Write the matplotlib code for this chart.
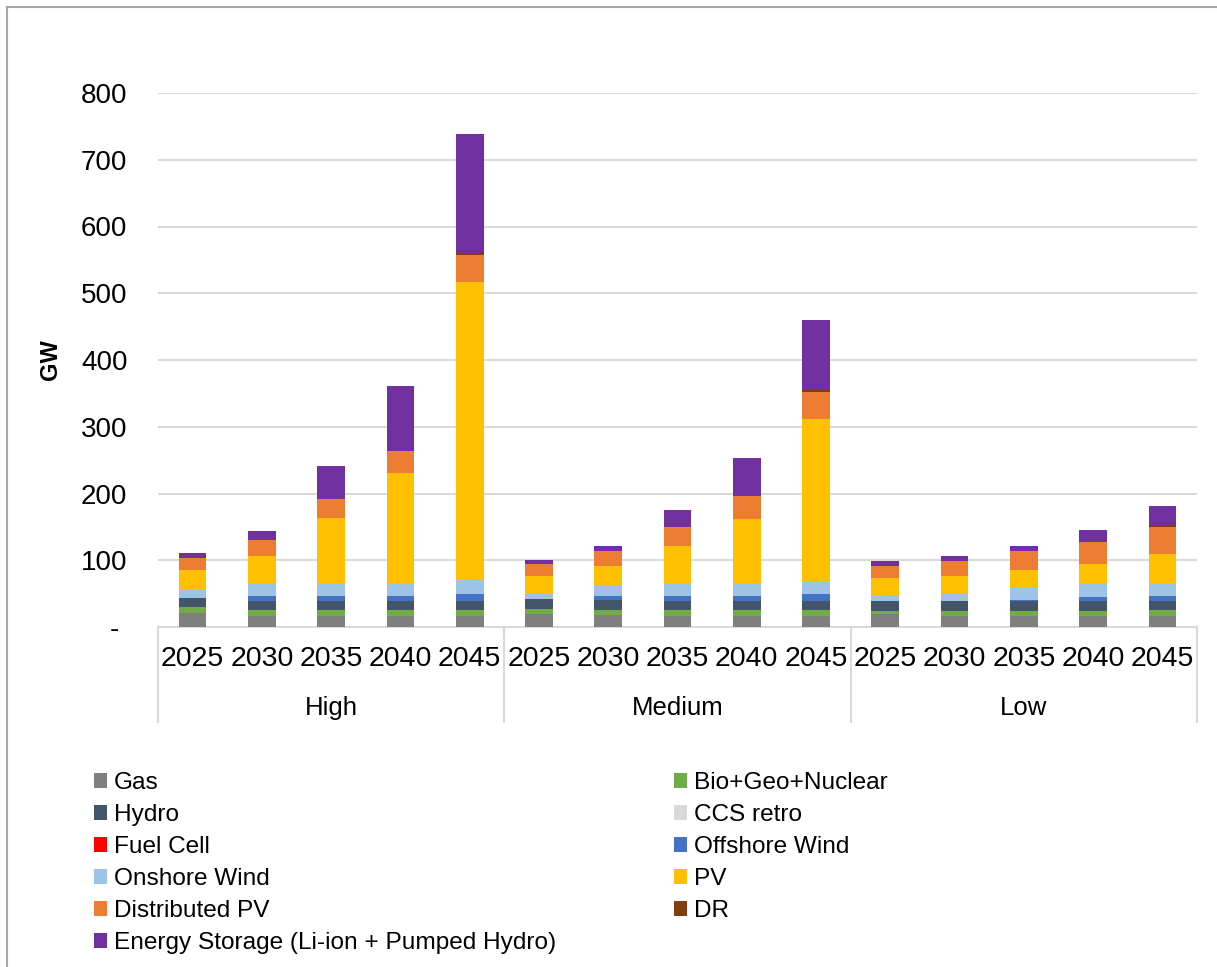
import numpy as np
import matplotlib.pyplot as plt
from matplotlib.patches import Patch
from matplotlib.transforms import blended_transform_factory

plt.rcParams['font.family'] = ['Liberation Sans', 'DejaVu Sans']

scenarios = ["High", "Medium", "Low"]
years = ["2025", "2030", "2035", "2040", "2045"]

# installed capacity, GW (High, Medium, Low -> 2025..2045)
gas = [21, 16.5, 16.5, 16.5, 16.5,
       19.5, 18, 16.5, 16.5, 16.5,
       19.5, 16.5, 16.5, 16.5, 16.5]
bio_geo_nuclear = [8.5, 8.5, 8.5, 8.5, 8.5,
                   7.5, 8, 8.5, 8.5, 8.5,
                   5, 7, 7, 7, 8.5]
hydro = [14, 14.5, 14.5, 14.5, 14.5,
         15, 14.5, 14.5, 14.5, 14.5,
         14.5, 15.5, 16, 16, 14.5]
ccs_retro = [0] * 15
fuel_cell = [0] * 15
offshore_wind = [0, 6.5, 6.5, 6.5, 10,
                 0, 6, 6.5, 6.5, 10,
                 0, 0, 1, 5.5, 7]
onshore_wind = [12.5, 19, 19, 19, 20.5,
                8, 15.5, 19, 19, 20,
                8, 11, 19, 19, 18.5]
pv = [29, 42, 98, 165.3, 447.4,
      26, 29, 56, 97.4, 242.5,
      26.5, 26, 26.5, 30.5, 45]
distributed_pv = [18, 23, 28.5, 33.4, 39.4,
                  18, 23.5, 28.5, 34.4, 39.6,
                  17.5, 22.5, 28.5, 33.5, 39.5]
dr = [0, 0, 0, 0, 4,
      0, 0, 0, 0, 4,
      0, 0, 0, 0, 4]
storage = [7.5, 13.5, 49, 97, 177.6,
           7, 7.5, 25.5, 56, 104.4,
           7.5, 7.5, 7, 17.5, 28.5]

series = [
    ("Gas", gas, "#7f7f7f"),
    ("Bio+Geo+Nuclear", bio_geo_nuclear, "#70ad47"),
    ("Hydro", hydro, "#44546a"),
    ("CCS retro", ccs_retro, "#d9d9d9"),
    ("Fuel Cell", fuel_cell, "#ff0000"),
    ("Offshore Wind", offshore_wind, "#4472c4"),
    ("Onshore Wind", onshore_wind, "#9dc3e6"),
    ("PV", pv, "#ffc000"),
    ("Distributed PV", distributed_pv, "#ed7d31"),
    ("DR", dr, "#843c0c"),
    ("Energy Storage (Li-ion + Pumped Hydro)", storage, "#7030a0"),
]

W, H = 1217, 967
fig = plt.figure(figsize=(W / 100, H / 100), dpi=100)
ax = fig.add_axes([158 / W, 1 - 627 / H, (1197 - 158) / W, (627 - 93) / H])

x = np.arange(len(scenarios) * len(years))
bottom = np.zeros(len(x))
for name, vals, color in series:
    vals = np.array(vals, dtype=float)
    ax.bar(x, vals, 0.4, bottom=bottom, color=color, zorder=3)
    bottom += vals

ax.set_xlim(-0.5, len(x) - 0.5)
ax.set_ylim(0, 800)
ax.set_yticks(range(0, 801, 100))
ax.set_yticklabels(["- "] + [str(v) for v in range(100, 801, 100)], fontsize=20)
ax.tick_params(axis="y", length=0, pad=22)
ax.set_xticks(x)
ax.set_xticklabels(years * len(scenarios), fontsize=20.5)
ax.tick_params(axis="x", length=0, pad=14)
ax.grid(axis="y", color="#d9d9d9", linewidth=1.5, zorder=0)
for side in ["top", "right", "left"]:
    ax.spines[side].set_visible(False)
ax.spines["bottom"].set_color("#d9d9d9")
ax.spines["bottom"].set_linewidth(1.5)
ax.set_ylabel("GW", fontsize=17, fontweight="bold", labelpad=14)

# scenario group labels and separators under the year labels
trans = blended_transform_factory(ax.transData, fig.transFigure)
for i, s in enumerate(scenarios):
    ax.text(i * 5 + 2, 1 - 708 / H, s, transform=trans, ha="center", va="center", fontsize=18.5)
for xb in [-0.5, 4.5, 9.5, 14.5]:
    ax.plot([xb, xb], [1 - 627 / H, 1 - 722 / H], transform=trans, color="#d9d9d9",
            linewidth=1.5, clip_on=False)

# legend, two columns filled row by row
handles = [Patch(facecolor=c, label=n) for n, _, c in series]
leg_kw = dict(frameon=False, fontsize=17.6, handlelength=0.55, handleheight=0.55,
              handletextpad=0.25, labelspacing=0.41, borderpad=0, borderaxespad=0,
              loc="upper left")
fig.legend(handles=handles[0::2], bbox_to_anchor=(94 / W, 1 - 772 / H), **leg_kw)
fig.legend(handles=handles[1::2], bbox_to_anchor=(674 / W, 1 - 772 / H), **leg_kw)

# outer chart border
fig.add_artist(plt.Line2D([7 / W, 7 / W], [0, 1 - 7 / H], transform=fig.transFigure,
                          color="#a6a6a6", linewidth=1.5))
fig.add_artist(plt.Line2D([7 / W, 1], [1 - 7 / H, 1 - 7 / H], transform=fig.transFigure,
                          color="#a6a6a6", linewidth=1.5))

fig.savefig("out.png", dpi=100)
